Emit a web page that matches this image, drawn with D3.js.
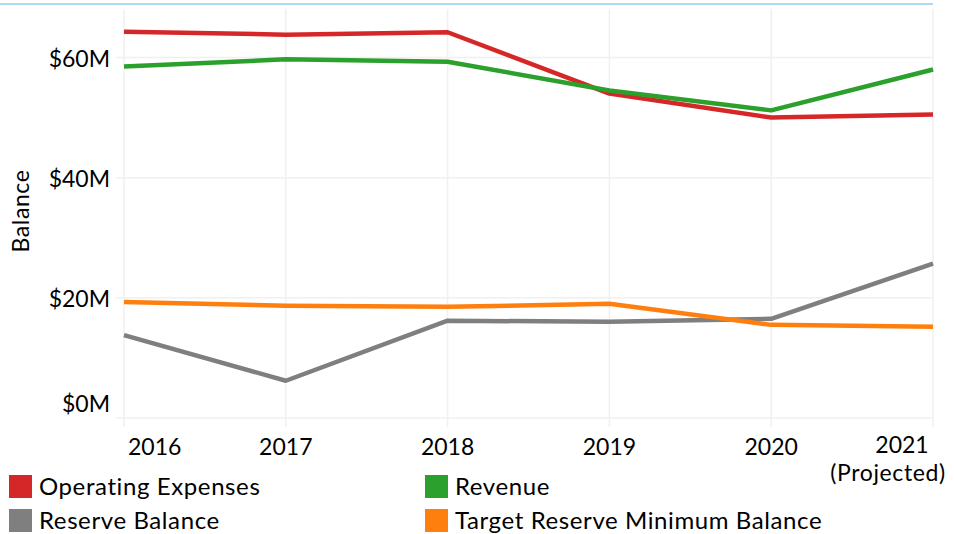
<!DOCTYPE html>
<html>
<head>
<meta charset="utf-8">
<script src="https://cdn.jsdelivr.net/npm/d3@7"></script>
<style>
  body { margin: 0; background: #fff; }
  svg { display: block; font-family: Lato, "Open Sans", sans-serif; }
</style>
</head>
<body>
<div id="chart"></div>
<script>
const width = 954;
const height = 534;

const years = ["2016", "2017", "2018", "2019", "2020", "2021"];
const operatingExpenses = [64.3, 63.8, 64.2, 54.0, 50.0, 50.5];
const revenue = [58.5, 59.7, 59.3, 54.5, 51.2, 58.0];
const reserveBalance = [13.8, 6.2, 16.2, 16.0, 16.5, 25.7];
const targetReserve = [19.3, 18.7, 18.5, 19.0, 15.5, 15.2];
const yTicks = [0, 20, 40, 60];

const series = [
  { name: "Operating Expenses", color: "#d62728", values: operatingExpenses },
  { name: "Revenue", color: "#2ca02c", values: revenue },
  { name: "Reserve Balance", color: "#7f7f7f", values: reserveBalance },
  { name: "Target Reserve Minimum Balance", color: "#ff7f0e", values: targetReserve }
];

const svg = d3.select("#chart")
  .append("svg")
  .attr("width", width)
  .attr("height", height);

const x = d3.scalePoint()
  .domain(years)
  .range([124, 933]);

const y = d3.scaleLinear()
  .domain([0, 60])
  .range([418, 57.5]);

// thin blue line on top
svg.append("line")
  .attr("x1", 0).attr("x2", 933)
  .attr("y1", 4).attr("y2", 4)
  .attr("stroke", "#92cdf8")
  .attr("stroke-width", 1.5);

// gridlines
svg.append("g")
  .selectAll("line")
  .data(years)
  .join("line")
  .attr("x1", d => x(d)).attr("x2", d => x(d))
  .attr("y1", 9).attr("y2", 427)
  .attr("stroke", "#f0f0f0")
  .attr("stroke-width", 1.5);

svg.append("g")
  .selectAll("line")
  .data(yTicks)
  .join("line")
  .attr("x1", 116).attr("x2", 933)
  .attr("y1", d => y(d)).attr("y2", d => y(d))
  .attr("stroke", "#f0f0f0")
  .attr("stroke-width", 1.5);

// y tick labels
svg.append("g")
  .selectAll("text")
  .data(yTicks)
  .join("text")
  .attr("x", 110)
  .attr("y", d => d === 0 ? y(d) - 6 : y(d) + 9)
  .attr("text-anchor", "end")
  .style("font-size", "23px")
  .attr("fill", "#000")
  .text(d => `$${d}M`);

// y axis title
svg.append("text")
  .attr("transform", "translate(29, 211) rotate(-90)")
  .attr("text-anchor", "middle")
  .style("font-size", "23px")
  .style("letter-spacing", "0.6px")
  .text("Balance");

// x tick labels
const xLabels = svg.append("g");
years.forEach((yr, i) => {
  const t = xLabels.append("text")
    .attr("y", 455)
    .style("font-size", "23px");
  if (i === 0) {
    t.attr("x", x(yr) + 4).attr("text-anchor", "start").text(yr);
  } else if (i === years.length - 1) {
    t.attr("x", x(yr) - 31).attr("y", 453)
      .attr("text-anchor", "middle").text(yr);
  } else {
    t.attr("x", x(yr)).attr("text-anchor", "middle").text(yr);
  }
});
xLabels.append("text")
  .attr("x", x("2021") - 45)
  .attr("y", 481)
  .attr("text-anchor", "middle")
  .style("font-size", "23px")
  .style("letter-spacing", "0.6px")
  .text("(Projected)");

// lines
const line = d3.line()
  .x((d, i) => x(years[i]))
  .y(d => y(d));

svg.append("g")
  .selectAll("path")
  .data(series)
  .join("path")
  .attr("d", d => line(d.values))
  .attr("fill", "none")
  .attr("stroke", d => d.color)
  .attr("stroke-width", 4.5)
  .attr("stroke-linejoin", "round");

// legend
const legendPos = [[9, 475], [425, 475], [9, 509], [425, 509]];
const legend = svg.append("g")
  .selectAll("g")
  .data(series)
  .join("g")
  .attr("transform", (d, i) => `translate(${legendPos[i][0]}, ${legendPos[i][1]})`);

legend.append("rect")
  .attr("width", 23)
  .attr("height", 23)
  .attr("fill", d => d.color);

legend.append("text")
  .attr("x", 30)
  .attr("y", 20)
  .style("font-size", "24px")
  .style("letter-spacing", "0.6px")
  .text(d => d.name);
</script>
</body>
</html>
